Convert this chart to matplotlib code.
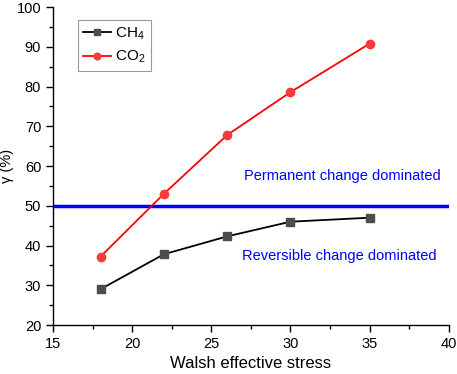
import numpy as np
import matplotlib.pyplot as plt
from matplotlib.ticker import MultipleLocator

plt.rcParams['font.family'] = ['Liberation Sans', 'DejaVu Sans']
plt.rcParams['mathtext.fontset'] = 'custom'
plt.rcParams['mathtext.rm'] = 'Liberation Sans'
plt.rcParams['mathtext.default'] = 'regular'

stress = [18, 22, 26, 30, 35]
ch4 = [29.0, 37.8, 42.3, 46.0, 47.0]
co2 = [37.2, 53.0, 67.8, 78.6, 90.8]
threshold = 50

fig = plt.figure(figsize=(4.57, 3.74), dpi=100)
ax = fig.add_axes([0.116, 0.131, 0.866, 0.85])

ax.axhline(threshold, color='#0000ff', lw=2.5, zorder=1)
ax.plot(stress, ch4, '-s', color='black', mfc='#4d4d4d', mec='#4d4d4d', ms=5.5, lw=1.3, label='CH$_4$')
ax.plot(stress, co2, '-o', color='#ff0000', mfc='#f53c3c', mec='#f53c3c', ms=6, lw=1.3, label='CO$_2$')

ax.text(33.3, 57.5, 'Permanent change dominated', color='#0000ff', fontsize=10.5, ha='center', va='center')
ax.text(33.1, 37.3, 'Reversible change dominated', color='#0000ff', fontsize=10.5, ha='center', va='center')

ax.set_xlim(15, 40)
ax.set_ylim(20, 100)
ax.xaxis.set_major_locator(MultipleLocator(5))
ax.xaxis.set_minor_locator(MultipleLocator(2.5))
ax.yaxis.set_major_locator(MultipleLocator(10))
ax.yaxis.set_minor_locator(MultipleLocator(5))
ax.tick_params(which='major', direction='out', length=5, width=1, labelsize=10.5)
ax.tick_params(which='minor', direction='out', length=3, width=1)
for s in ['top', 'right']:
    ax.spines[s].set_visible(False)
for s in ['left', 'bottom']:
    ax.spines[s].set_linewidth(1)

ax.set_xlabel('Walsh effective stress', fontsize=12)
ax.set_ylabel('γ (%)', fontsize=10.5, labelpad=2)

leg = ax.legend(loc='upper left', bbox_to_anchor=(0.063, 0.958), fontsize=11, frameon=True,
                fancybox=False, edgecolor='#808080', handlelength=1.8, borderpad=0.35,
                labelspacing=0.45, handletextpad=0.3, borderaxespad=0, markerscale=0.8)
leg.get_frame().set_linewidth(0.8)

fig.savefig('out.png', dpi=100)
